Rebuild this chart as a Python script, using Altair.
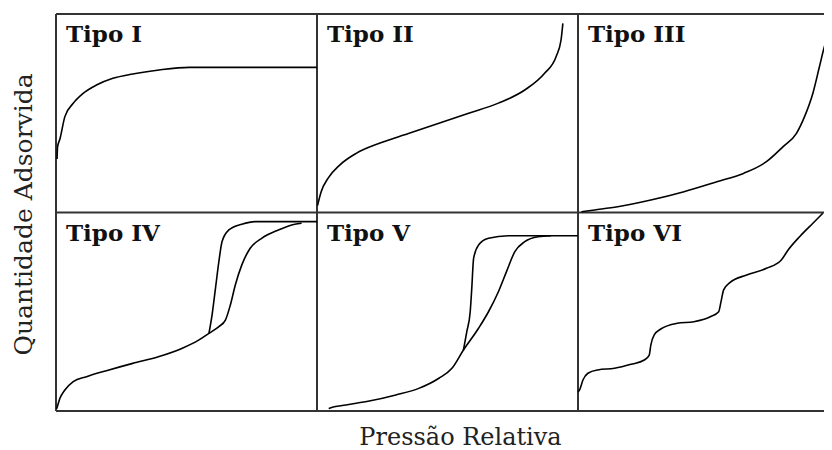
import altair as alt
import pandas as pd

# ---- layout helpers (pixels per panel, plot size) ----
PANEL_PX = 261
PLOT_W = 768
PLOT_H = 397
XMAX = PLOT_W / PANEL_PX

# ---- data (normalised per panel: pressure 0-1, amount 0-1) ----
tipo_i_x = [0.004, 0.006, 0.015, 0.034, 0.066, 0.104, 0.155, 0.218, 0.294, 0.395, 0.510, 1.0]
tipo_i_y = [0.270, 0.330, 0.370, 0.483, 0.550, 0.600, 0.642, 0.676, 0.698, 0.718, 0.731, 0.731]

tipo_ii_x = [0.002, 0.004, 0.016, 0.042, 0.087, 0.150, 0.239, 0.353, 0.467, 0.581, 0.695, 0.796, 0.872, 0.916, 0.935, 0.942]
tipo_ii_y = [0.035, 0.046, 0.105, 0.172, 0.239, 0.298, 0.349, 0.399, 0.450, 0.500, 0.551, 0.617, 0.701, 0.785, 0.869, 0.953]

tipo_iii_x = [0.013, 0.064, 0.152, 0.279, 0.406, 0.532, 0.634, 0.722, 0.786, 0.837, 0.868, 0.900, 0.925, 0.944, 0.948]
tipo_iii_y = [0.004, 0.013, 0.029, 0.063, 0.105, 0.155, 0.197, 0.256, 0.332, 0.399, 0.483, 0.601, 0.734, 0.835, 0.852]

tipo_iv_ads_x = [0.002, 0.005, 0.015, 0.034, 0.066, 0.117, 0.193, 0.294, 0.395, 0.484, 0.548, 0.586, 0.624, 0.649, 0.668, 0.687, 0.712, 0.744, 0.788, 0.852, 0.915, 0.941]
tipo_iv_ads_y = [0.010, 0.022, 0.064, 0.106, 0.148, 0.173, 0.203, 0.240, 0.274, 0.316, 0.358, 0.391, 0.425, 0.458, 0.534, 0.635, 0.736, 0.820, 0.870, 0.912, 0.941, 0.946]
tipo_iv_des_x = [0.586, 0.598, 0.611, 0.624, 0.636, 0.662, 0.712, 0.763, 1.0]
tipo_iv_des_y = [0.391, 0.484, 0.618, 0.752, 0.853, 0.912, 0.941, 0.954, 0.954]

tipo_v_ads_x = [0.045, 0.048, 0.111, 0.200, 0.302, 0.390, 0.467, 0.517, 0.561, 0.619, 0.657, 0.695, 0.726, 0.758, 0.796, 0.847, 0.897]
tipo_v_ads_y = [0.012, 0.014, 0.030, 0.050, 0.081, 0.114, 0.165, 0.215, 0.307, 0.417, 0.500, 0.601, 0.702, 0.803, 0.853, 0.878, 0.883]
tipo_v_des_x = [0.561, 0.574, 0.587, 0.593, 0.600, 0.619, 0.657, 0.733, 1.0]
tipo_v_des_y = [0.307, 0.400, 0.500, 0.618, 0.769, 0.836, 0.870, 0.883, 0.883]

tipo_vi_x = [0.0, 0.006, 0.019, 0.038, 0.076, 0.140, 0.203, 0.254, 0.273, 0.279, 0.292, 0.317, 0.380,
             0.444, 0.507, 0.539, 0.548, 0.558, 0.583, 0.646, 0.722, 0.779, 0.805, 0.849, 0.900, 0.938]
tipo_vi_y = [0.095, 0.106, 0.156, 0.190, 0.207, 0.215, 0.235, 0.257, 0.282, 0.332, 0.383, 0.413, 0.442,
             0.450, 0.475, 0.500, 0.551, 0.610, 0.648, 0.685, 0.719, 0.761, 0.811, 0.878, 0.946, 0.996]

labels = ["Tipo I", "Tipo II", "Tipo III", "Tipo IV", "Tipo V", "Tipo VI"]
label_col = [0, 1, 2, 0, 1, 2]
label_row_base = [1, 1, 1, 0, 0, 0]   # 1 = upper row, 0 = lower row

col_edges = [0, 1, 2]
row_edges = [0, 1, 2]

series = [
    ("I", 0, 1, tipo_i_x, tipo_i_y),
    ("II", 1, 1, tipo_ii_x, tipo_ii_y),
    ("III", 2, 1, tipo_iii_x, tipo_iii_y),
    ("IV-ads", 0, 0, tipo_iv_ads_x, tipo_iv_ads_y),
    ("IV-des", 0, 0, tipo_iv_des_x, tipo_iv_des_y),
    ("V-ads", 1, 0, tipo_v_ads_x, tipo_v_ads_y),
    ("V-des", 1, 0, tipo_v_des_x, tipo_v_des_y),
    ("VI", 2, 0, tipo_vi_x, tipo_vi_y),
]

rows = []
for name, col, base, xs, ys in series:
    for i, (a, b) in enumerate(zip(xs, ys)):
        rows.append({"serie": name, "px": col + a, "py": base + b, "ordem": i})
curves_df = pd.DataFrame(rows)

vlines_df = pd.DataFrame({"px": col_edges, "py": [0] * 3, "py2": [2] * 3})
hlines_df = pd.DataFrame({"py": row_edges, "px": [0] * 3, "px2": [XMAX] * 3})
labels_df = pd.DataFrame({"label": labels, "px": label_col, "py": [b + 1 for b in label_row_base]})

xscale = alt.Scale(domain=[0, XMAX], nice=False, zero=False)
yscale = alt.Scale(domain=[0, 2], nice=False, zero=False)

AX = alt.Axis(title="Pressão Relativa", domain=False, ticks=False, labels=False, grid=False,
              titleFont="DejaVu Serif", titleFontSize=24, titleFontWeight="normal",
              titleColor="#222", titleX=404, titleY=33, titleBaseline="alphabetic",
              titleAlign="center")
AY = alt.Axis(title="Quantidade Adsorvida", domain=False, ticks=False, labels=False, grid=False,
              titleFont="DejaVu Serif", titleFontSize=25, titleFontWeight="normal",
              titleColor="#222", titleX=-25, titleY=200, titleAngle=-90,
              titleBaseline="alphabetic", titleAlign="center")

border_color = "#333"

vlines = alt.Chart(vlines_df).mark_rule(color=border_color, strokeWidth=2).encode(
    x=alt.X("px:Q", scale=xscale, axis=AX),
    y=alt.Y("py:Q", scale=yscale, axis=AY),
    y2="py2:Q",
)
hlines = alt.Chart(hlines_df).mark_rule(color=border_color, strokeWidth=2).encode(
    x=alt.X("px:Q", scale=xscale, axis=AX),
    x2="px2:Q",
    y=alt.Y("py:Q", scale=yscale, axis=AY),
)
curves = alt.Chart(curves_df).mark_line(color="black", strokeWidth=1.6, interpolate="monotone", clip=True).encode(
    x=alt.X("px:Q", scale=xscale, axis=AX),
    y=alt.Y("py:Q", scale=yscale, axis=AY),
    detail="serie:N",
    order="ordem:Q",
)
text = alt.Chart(labels_df).mark_text(
    align="left", baseline="alphabetic", dx=10, dy=28,
    font="DejaVu Serif", fontWeight="bold", fontSize=23, color="#111",
).encode(
    x=alt.X("px:Q", scale=xscale, axis=AX),
    y=alt.Y("py:Q", scale=yscale, axis=AY),
    text="label:N",
)

chart = alt.layer(vlines, hlines, curves, text).properties(
    width=PLOT_W,
    height=PLOT_H,
    padding={"left": 48, "top": 6, "right": 0, "bottom": 39},
    autosize=alt.AutoSizeParams(type="none"),
    background="white",
).configure_view(stroke=None)

chart.save("out.html", embed_options={"renderer": "svg", "actions": False})
